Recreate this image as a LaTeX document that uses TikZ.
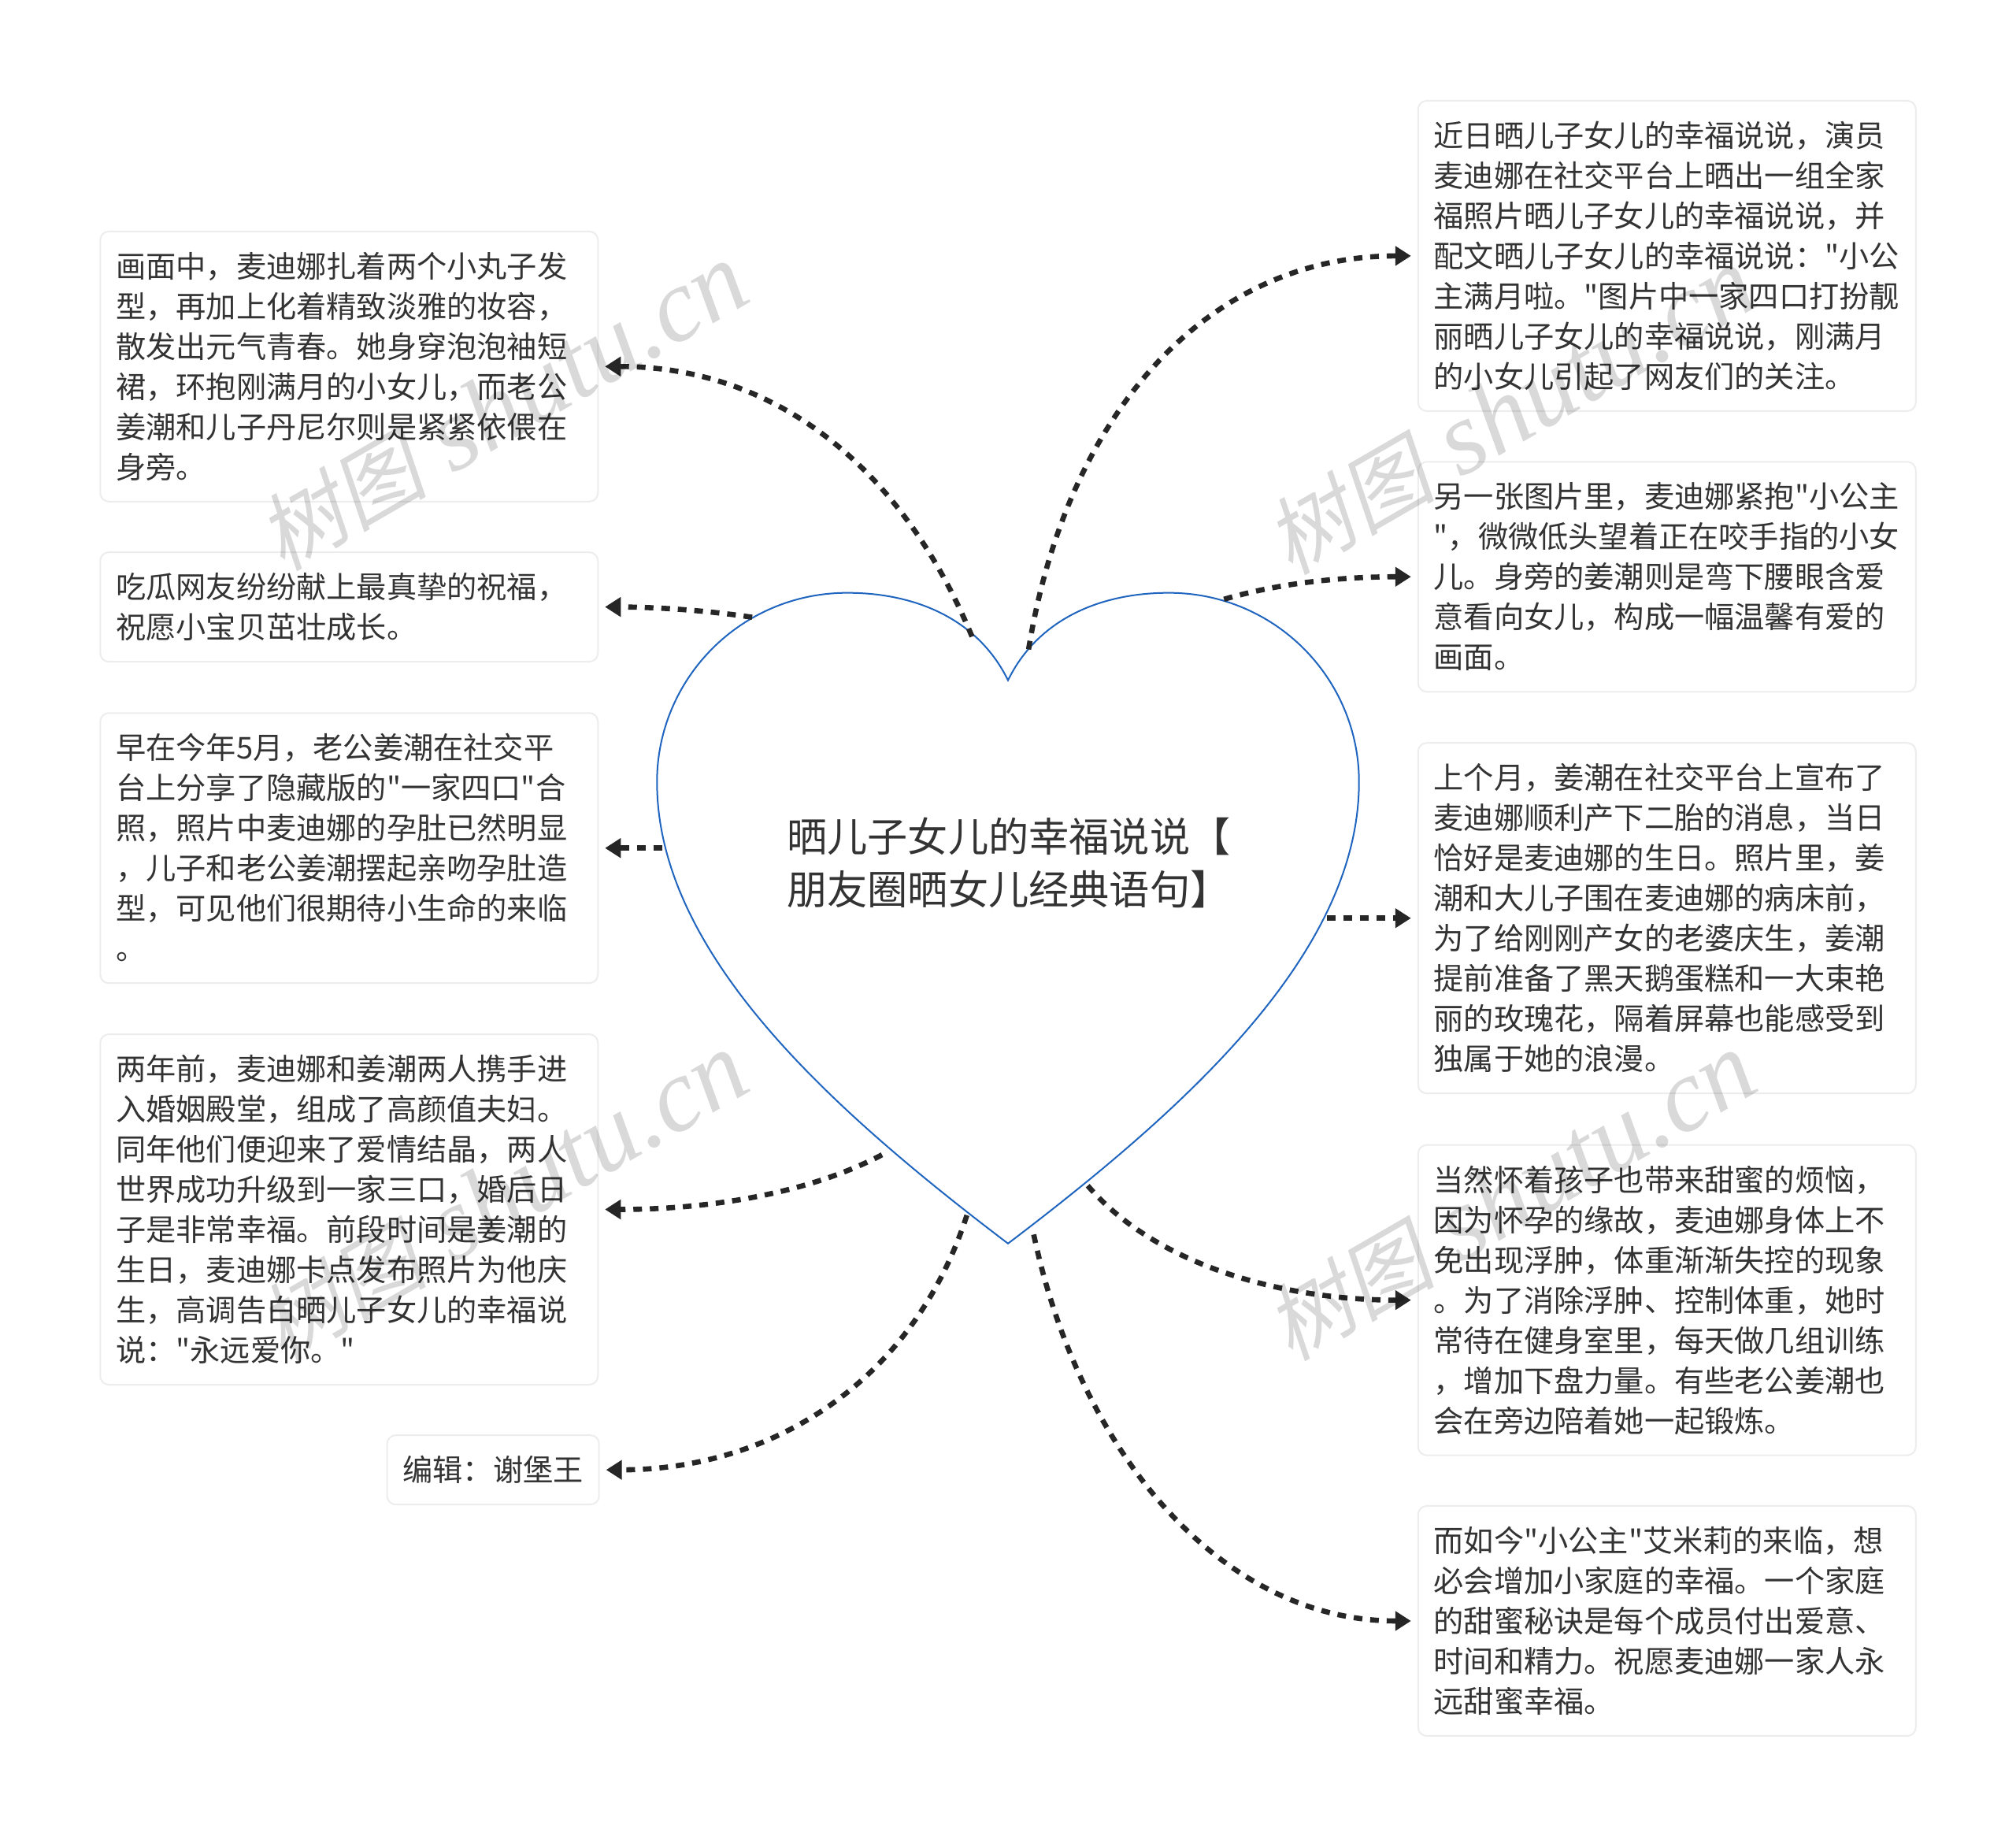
\documentclass[tikz,border=0pt]{standalone}
\usepackage{fontspec}
\usetikzlibrary{arrows.meta}
\setmainfont{Liberation Serif}
\newfontfamily\cjk{Noto Sans CJK SC}
\newfontfamily\wmcjk[FakeSlant=0.2]{Noto Sans CJK SC}
\newfontfamily\wmlat{Liberation Serif}[ItalicFont=* Italic]
\definecolor{ink}{HTML}{333333}
\definecolor{linkc}{HTML}{262626}
\definecolor{heartc}{HTML}{1F65BF}
\definecolor{edgec}{HTML}{EDEDED}
\newcommand{\lnstrut}{\rule[-10.9pt]{0pt}{51pt}}
\tikzset{
  note/.style={draw=edgec,line width=2pt,rounded corners=11pt,fill=white,text=ink,anchor=center,
    inner xsep=20pt,inner ysep=0pt,align=left,
    font=\cjk\fontsize{38.2}{51}\selectfont,
    execute at begin node=\lnstrut,execute at end node=\lnstrut},
  wide/.style={note,text width=592pt,minimum width=632pt},
  conn/.style={draw=linkc,line width=6.6pt,dash pattern=on 11pt off 10pt,-{Triangle[length=20pt,width=24pt]},shorten >=8pt},
  title/.style={text=ink,align=left,inner sep=0pt,font=\cjk\fontsize{51.2}{67}\selectfont,anchor=west},
  wmark/.style={rotate=30,text=black,text opacity=0.15,anchor=center}
}
\newcommand{\wmtext}{{\wmcjk\fontsize{108}{120}\selectfont 树图}{\wmlat\itshape\fontsize{132}{132}\selectfont\ shutu.cn}}
\begin{document}
\begin{tikzpicture}[x=1.6327pt,y=-1.6327pt]
\useasboundingbox (0,0) rectangle (1568,1427.7);
\fill[white] (0,0) rectangle (1568,1427.7);

\path[draw=heartc,line width=2pt,fill=white,line join=miter]
  (784,529) .. controls (807,482) and (855,461) .. (909,461)
  .. controls (992,461) and (1057,528) .. (1057,608)
  .. controls (1057,740) and (925,860) .. (784,967)
  .. controls (643,860) and (511,740) .. (511,608)
  .. controls (511,528) and (576,461) .. (659,461)
  .. controls (713,461) and (761,482) .. (784,529) -- cycle;
\node[title] (center) at (612,671) {晒儿子女儿的幸福说说【\\朋友圈晒女儿经典语句】};

\node[wide,minimum height=343pt] (L1) at (271.5,285) {画面中，麦迪娜扎着两个小丸子发\\型，再加上化着精致淡雅的妆容，\\散发出元气青春。她身穿泡泡袖短\\裙，环抱刚满月的小女儿，而老公\\姜潮和儿子丹尼尔则是紧紧依偎在\\身旁。};
\node[wide,minimum height=139pt] (L2) at (271.5,472) {吃瓜网友纷纷献上最真挚的祝福，\\祝愿小宝贝茁壮成长。};
\node[wide,minimum height=343pt] (L3) at (271.5,659.5) {早在今年5月，老公姜潮在社交平\\台上分享了隐藏版的"一家四口"合\\照，照片中麦迪娜的孕肚已然明显\\，儿子和老公姜潮摆起亲吻孕肚造\\型，可见他们很期待小生命的来临\\。};
\node[wide,minimum height=445pt] (L4) at (271.5,940.5) {两年前，麦迪娜和姜潮两人携手进\\入婚姻殿堂，组成了高颜值夫妇。\\同年他们便迎来了爱情结晶，两人\\世界成功升级到一家三口，婚后日\\子是非常幸福。前段时间是姜潮的\\生日，麦迪娜卡点发布照片为他庆\\生，高调告白晒儿子女儿的幸福说\\说："永远爱你。"};
\node[note,text width=229.2pt,minimum height=88pt] (L5) at (383.5,1143) {编辑：谢堡王};

\node[wide,minimum height=394pt] (R1) at (1296.5,199) {近日晒儿子女儿的幸福说说，演员\\麦迪娜在社交平台上晒出一组全家\\福照片晒儿子女儿的幸福说说，并\\配文晒儿子女儿的幸福说说："小公\\主满月啦。"图片中一家四口打扮靓\\丽晒儿子女儿的幸福说说，刚满月\\的小女儿引起了网友们的关注。};
\node[wide,minimum height=292pt] (R2) at (1296.5,448.5) {另一张图片里，麦迪娜紧抱"小公主\\"，微微低头望着正在咬手指的小女\\儿。身旁的姜潮则是弯下腰眼含爱\\意看向女儿，构成一幅温馨有爱的\\画面。};
\node[wide,minimum height=445pt] (R3) at (1296.5,714) {上个月，姜潮在社交平台上宣布了\\麦迪娜顺利产下二胎的消息，当日\\恰好是麦迪娜的生日。照片里，姜\\潮和大儿子围在麦迪娜的病床前，\\为了给刚刚产女的老婆庆生，姜潮\\提前准备了黑天鹅蛋糕和一大束艳\\丽的玫瑰花，隔着屏幕也能感受到\\独属于她的浪漫。};
\node[wide,minimum height=394pt] (R4) at (1296.5,1011) {当然怀着孩子也带来甜蜜的烦恼，\\因为怀孕的缘故，麦迪娜身体上不\\免出现浮肿，体重渐渐失控的现象\\。为了消除浮肿、控制体重，她时\\常待在健身室里，每天做几组训练\\，增加下盘力量。有些老公姜潮也\\会在旁边陪着她一起锻炼。};
\node[wide,minimum height=292pt] (R5) at (1296.5,1260.5) {而如今"小公主"艾米莉的来临，想\\必会增加小家庭的幸福。一个家庭\\的甜蜜秘诀是每个成员付出爱意、\\时间和精力。祝愿麦迪娜一家人永\\远甜蜜幸福。};

\coordinate (sR1) at (800,505);
\coordinate (sR2) at (952,466);
\coordinate (sR3) at (1032,714);
\coordinate (sR4) at (846,922);
\coordinate (sR5) at (804,960);
\coordinate (sL1) at (756,495);
\coordinate (sL2) at (585,480);
\coordinate (sL3) at (515,659.5);
\coordinate (sL4) at (686,898);
\coordinate (sL5) at (752,945);

\draw[conn] (sR1) .. controls (830,320) and (940,199) .. (R1.west);
\draw[conn] (sR2) .. controls (1000,452) and (1050,448.5) .. (R2.west);
\draw[conn] (sR3) -- (R3.west);
\draw[conn] (sR4) .. controls (900,985) and (1000,1011) .. (R4.west);
\draw[conn] (sR5) .. controls (840,1130) and (950,1260.5) .. (R5.west);
\draw[conn] (sL1) .. controls (700,360) and (600,285) .. (L1.east);
\draw[conn] (sL2) .. controls (545,474) and (505,472) .. (L2.east);
\draw[conn] (sL3) -- (L3.east);
\draw[conn] (sL4) .. controls (625,930) and (545,940.5) .. (L4.east);
\draw[conn] (sL5) .. controls (710,1075) and (600,1143) .. (L5.east);

\node[wmark] (w1) at (391,317) {\wmtext};
\node[wmark] (w2) at (391,931) {\wmtext};
\node[wmark] (w3) at (1175,320) {\wmtext};
\node[wmark] (w4) at (1175,931) {\wmtext};
\end{tikzpicture}
\end{document}
